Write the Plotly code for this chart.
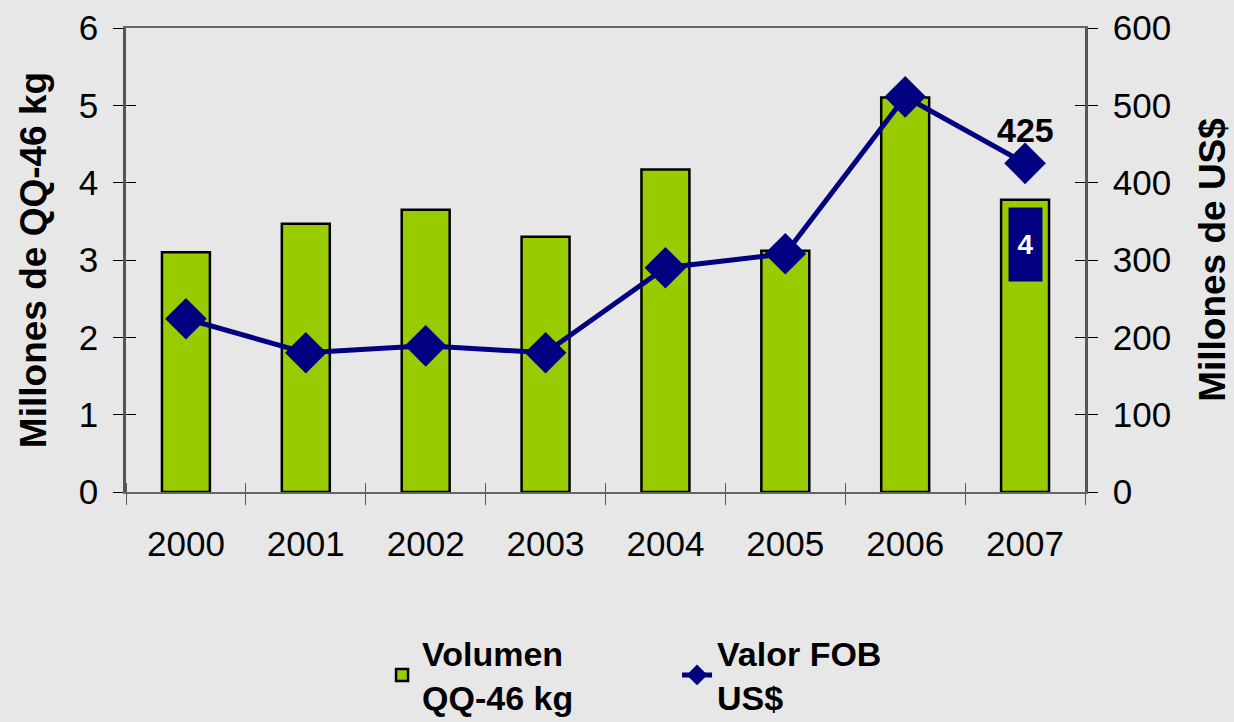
import plotly.graph_objects as go

years = [2000, 2001, 2002, 2003, 2004, 2005, 2006, 2007]
volumen = [3.10, 3.47, 3.65, 3.30, 4.17, 3.12, 5.10, 3.78]
valor_fob = [224, 180, 189, 180, 290, 308, 511, 425]

BG = "#e7e7e7"
FONT = "Liberation Sans, Arial, sans-serif"

fig = go.Figure()
fig.add_trace(go.Bar(
    x=years, y=volumen, name="<b>Volumen<br>QQ-46 kg</b>",
    marker=dict(color="#99cc00", line=dict(color="#000000", width=2.5)),
    width=0.4, yaxis="y",
))
fig.add_trace(go.Scatter(
    x=years, y=valor_fob, name="<b>Valor FOB<br>US$</b>", yaxis="y2",
    mode="lines+markers",
    line=dict(color="#000080", width=5),
    marker=dict(symbol="diamond", size=32, color="#000080"),
))

# data label of the last point
fig.add_annotation(
    x=years[-1], y=valor_fob[-1], xref="x", yref="y2",
    text="<b>%d</b>" % valor_fob[-1], showarrow=False, yshift=33,
    font=dict(family=FONT, size=34, color="#000000"),
)
# obscured data label box on the 2007 bar
fig.add_annotation(
    x=years[-1], y=3.2, xref="x", yref="y", text="<b>4</b>", showarrow=False,
    bgcolor="#000080", font=dict(family=FONT, size=28, color="#ffffff"),
    width=31, height=71,
)

axis_line = dict(showline=True, linecolor="#555555", linewidth=2.5,
                 showgrid=False, zeroline=False, automargin=False)

fig.update_layout(
    width=1234, height=722,
    paper_bgcolor=BG, plot_bgcolor=BG,
    margin=dict(l=126, r=149, t=28, b=230, autoexpand=False),
    font=dict(family=FONT, color="#000000"),
    showlegend=True,
    legend=dict(
        orientation="h", x=0.267, xanchor="left", y=-0.285, yanchor="top",
        font=dict(family=FONT, size=34, color="#000000"),
        bgcolor="rgba(0,0,0,0)", entrywidth=250,
    ),
    xaxis=dict(
        range=[years[0] - 0.5, years[-1] + 0.5], tickmode="array", tickvals=years,
        ticktext=[str(y) for y in years], ticks="", tickangle=0,
        ticklabelstandoff=20,
        minor=dict(ticks="outside", tick0=years[0] - 0.5, dtick=1, ticklen=11,
                   tickcolor="#555555", showgrid=False),
        mirror=True, tickfont=dict(size=35),
        **{**axis_line, "linecolor": "#666666", "linewidth": 2},
    ),
    xaxis2=dict(
        overlaying="x", matches="x", showticklabels=False, ticks="",
        minor=dict(ticks="inside", tick0=years[0] - 0.5, dtick=1, ticklen=9,
                   tickcolor="#555555", showgrid=False),
        showline=False, showgrid=False, zeroline=False, automargin=False,
    ),
    yaxis=dict(
        range=[0, 6], dtick=1, ticks="outside", ticklen=10, tickcolor="#000000",
        tickfont=dict(size=35), ticklabelstandoff=8,
        title=dict(text="<b>Millones de QQ-46 kg</b>", font=dict(size=37), standoff=21),
        **axis_line,
    ),
    yaxis2=dict(
        range=[0, 600], dtick=100, overlaying="y", side="right", ticks="outside",
        ticklen=10, tickcolor="#000000", tickfont=dict(size=35),
        ticklabelstandoff=8,
        title=dict(text="<b>Millones de US$</b>", font=dict(size=37), standoff=29),
        **axis_line,
    ),
    yaxis3=dict(
        range=[0, 6], dtick=1, overlaying="y", side="left", ticks="inside",
        ticklen=10, tickcolor="#000000", showticklabels=False,
        showline=False, showgrid=False, zeroline=False, automargin=False,
    ),
    yaxis4=dict(
        range=[0, 600], dtick=100, overlaying="y", side="right", ticks="inside",
        ticklen=10, tickcolor="#000000", showticklabels=False,
        showline=False, showgrid=False, zeroline=False, automargin=False,
    ),
)

# invisible helper traces so the tick-only overlay axes are drawn
fig.add_trace(go.Scatter(x=[years[0]], y=[0], xaxis="x2", yaxis="y3",
                         mode="markers", marker=dict(opacity=0), showlegend=False,
                         hoverinfo="skip"))
fig.add_trace(go.Scatter(x=[years[0]], y=[0], xaxis="x2", yaxis="y4",
                         mode="markers", marker=dict(opacity=0), showlegend=False,
                         hoverinfo="skip"))

fig.write_html("out.html", config={"displayModeBar": False},
               post_script="document.body.style.margin='0px';")
